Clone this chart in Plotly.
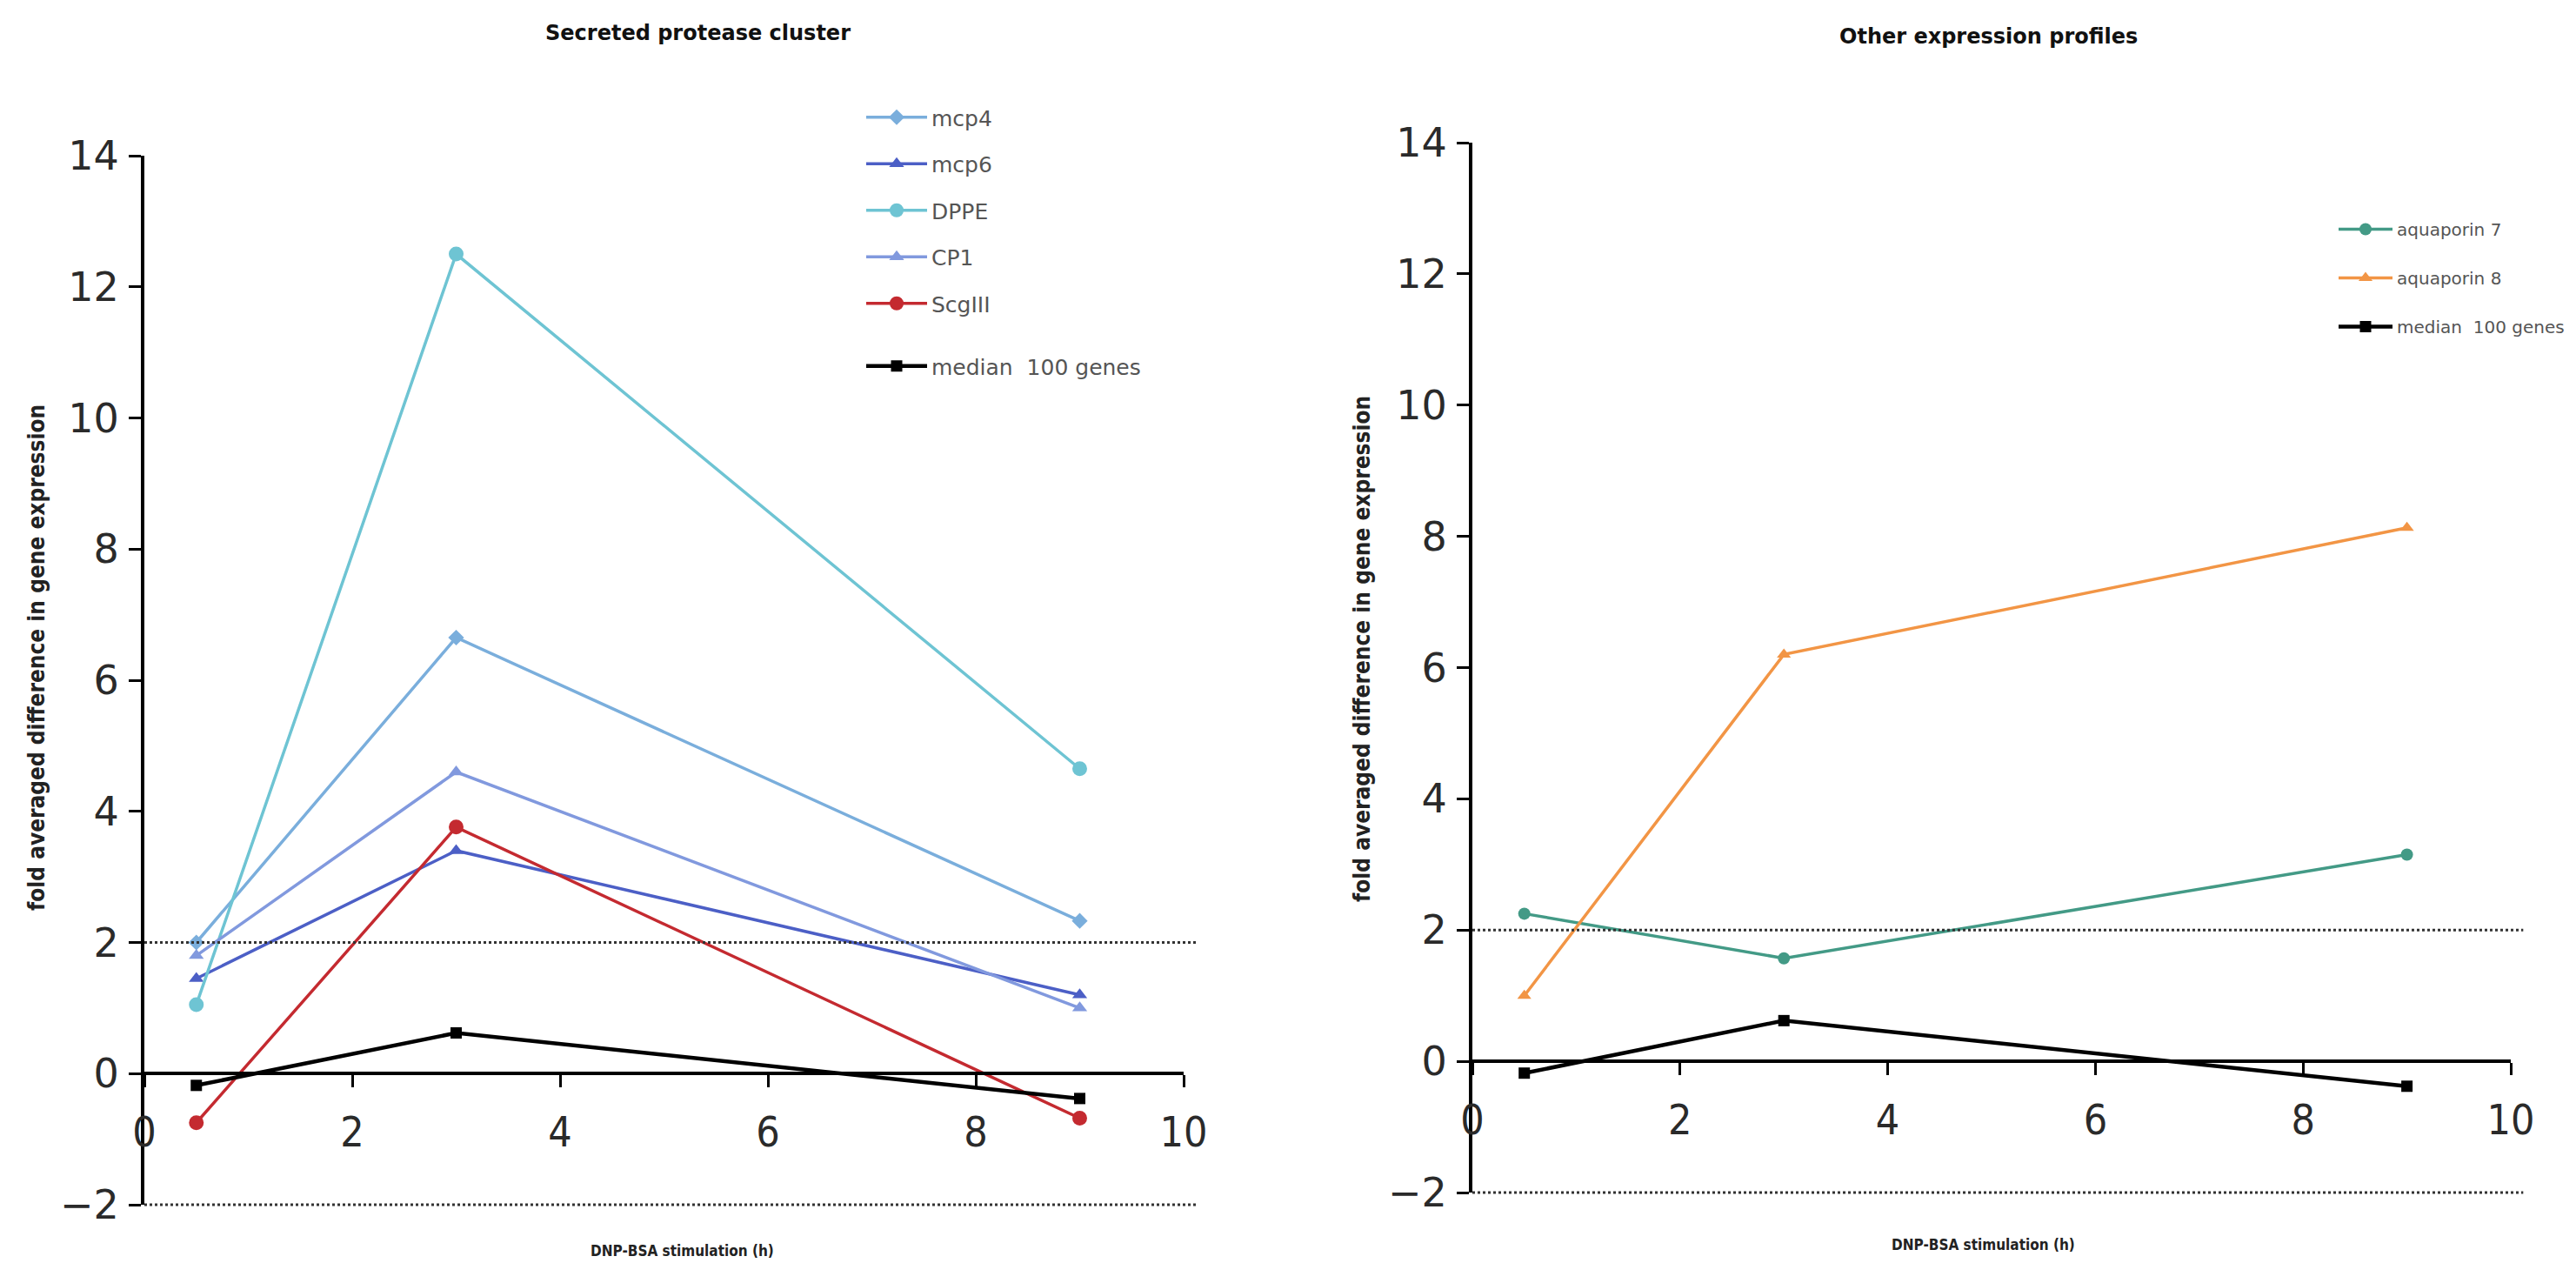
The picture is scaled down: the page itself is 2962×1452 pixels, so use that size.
import plotly.graph_objects as go

# ---------------- data ----------------
time_h = [0.5, 3, 9]

mcp4 = [2.0, 6.65, 2.33]
mcp6 = [1.45, 3.4, 1.2]
dppe = [1.05, 12.5, 4.65]
cp1 = [1.8, 4.6, 1.0]
scgiii = [-0.75, 3.76, -0.68]
median_100 = [-0.18, 0.62, -0.38]

aqp7 = [2.25, 1.57, 3.15]
aqp8 = [1.0, 6.2, 8.13]

median_name = "median  100 genes"
thresholds = [2, -2]
x_ticks = [0, 2, 4, 6, 8, 10]
y_ticks = [-2, 0, 2, 4, 6, 8, 10, 12, 14]
y_range = [-2, 14]
x_range = [0, 10]

# ---------------- styles ----------------
W, H = 2962, 1452
L_dom_x = [166 / W, 1361 / W]
L_dom_y = [1 - 1385 / H, 1 - 179 / H]
R_dom_x = [1693 / W, 2887 / W]
R_dom_y = [1 - 1371 / H, 1 - 164 / H]

tick_font_y = dict(family="DejaVu Sans, Verdana, sans-serif", size=46, color="#2a2a2a")
tick_font_x = dict(family="Liberation Sans Narrow, DejaVu Sans Condensed, sans-serif", size=48, color="#2a2a2a")
title_font = dict(family="DejaVu Sans, Verdana, sans-serif", size=24, color="#111111")
axtitle_font = dict(family="DejaVu Sans Condensed, Liberation Sans Narrow, sans-serif", size=26, color="#222222")

fig = go.Figure()

left_series = [
    ("mcp4", mcp4, "#7aaedc", "diamond", 14),
    ("mcp6", mcp6, "#4c5fc6", "triangle-up", 15),
    ("DPPE", dppe, "#6ec4d3", "circle", 17),
    ("CP1", cp1, "#8199de", "triangle-up", 15),
    ("ScgIII", scgiii, "#c42a30", "circle", 17),
]
for i, (name, vals, col, sym, sz) in enumerate(left_series):
    fig.add_trace(go.Scatter(
        x=time_h, y=vals, name=name, mode="lines+markers",
        line=dict(color=col, width=3.5),
        marker=dict(color=col, symbol=sym, size=sz),
        xaxis="x", yaxis="y", legend="legend", legendgroup=f"L{i}",
    ))
fig.add_trace(go.Scatter(
    x=time_h, y=median_100, name=median_name, mode="lines+markers",
    line=dict(color="black", width=4.5),
    marker=dict(color="black", symbol="square", size=13),
    xaxis="x", yaxis="y", legend="legend2",
))

right_series = [
    ("aquaporin 7", aqp7, "#439a86", "circle", 14),
    ("aquaporin 8", aqp8, "#f29545", "triangle-up", 14),
]
for i, (name, vals, col, sym, sz) in enumerate(right_series):
    fig.add_trace(go.Scatter(
        x=time_h, y=vals, name=name, mode="lines+markers",
        line=dict(color=col, width=3.5),
        marker=dict(color=col, symbol=sym, size=sz),
        xaxis="x2", yaxis="y2", legend="legend3", legendgroup=f"R{i}",
    ))
fig.add_trace(go.Scatter(
    x=time_h, y=median_100, name=median_name, mode="lines+markers",
    line=dict(color="black", width=4.5),
    marker=dict(color="black", symbol="square", size=13),
    xaxis="x2", yaxis="y2", legend="legend3", legendgroup="R9",
))


def zero_pos(dom_y):
    frac = (0 - y_range[0]) / (y_range[1] - y_range[0])
    return dom_y[0] + frac * (dom_y[1] - dom_y[0])


def xaxis_cfg(dom_x, dom_y):
    return dict(
        domain=dom_x, range=x_range, anchor="free", position=zero_pos(dom_y),
        tickvals=x_ticks, ticks="outside", ticklen=14, tickwidth=3, tickcolor="black",
        showline=True, linecolor="black", linewidth=4,
        showgrid=False, zeroline=False, tickfont=tick_font_x,
        ticklabelstandoff=10, automargin=False,
    )


def yaxis_cfg(dom_y, anchor):
    return dict(
        domain=dom_y, range=y_range, anchor=anchor,
        tickvals=y_ticks, ticks="outside", ticklen=14, tickwidth=3, tickcolor="black",
        showline=True, linecolor="black", linewidth=4,
        showgrid=False, zeroline=False, tickfont=tick_font_y,
        ticklabelstandoff=2, automargin=False,
    )


shapes = []
for xr, yr in [("x", "y"), ("x2", "y2")]:
    for t in thresholds:
        fy = (t - y_range[0]) / (y_range[1] - y_range[0])
        shapes.append(dict(
            type="line", xref=f"{xr} domain", yref=f"{yr} domain",
            x0=0, x1=1.012, y0=fy, y1=fy,
            line=dict(color="#333333", width=3, dash="dot"),
        ))


def ann(text, x, y, font, angle=0):
    return dict(text=text, x=x, y=y, xref="paper", yref="paper", showarrow=False,
                xanchor="center", yanchor="middle", textangle=angle, font=font)


annotations = [
    ann("<b>Secreted protease cluster</b>", 803 / W, 1 - 38 / H, title_font),
    ann("<b>Other expression profiles</b>", 2286 / W, 1 - 42 / H, title_font),
    ann("<b>fold averaged difference in gene expression</b>", 42 / W, 1 - 756 / H, axtitle_font, -90),
    ann("<b>fold averaged difference in gene expression</b>", 1566 / W, 1 - 746 / H, axtitle_font, -90),
    ann("<b>DNP-BSA stimulation (h)</b>", 784 / W, 1 - 1438 / H, dict(axtitle_font, size=17)),
    ann("<b>DNP-BSA stimulation (h)</b>", 2280 / W, 1 - 1431 / H, dict(axtitle_font, size=17)),
]

leg_font_l = dict(family="DejaVu Sans, Verdana, sans-serif", size=25, color="#555555")
leg_font_r = dict(family="DejaVu Sans, Verdana, sans-serif", size=20, color="#555555")

fig.update_layout(
    width=W, height=H,
    margin=dict(l=0, r=0, t=0, b=0, autoexpand=False),
    paper_bgcolor="white", plot_bgcolor="white",
    xaxis=xaxis_cfg(L_dom_x, L_dom_y),
    yaxis=yaxis_cfg(L_dom_y, "x"),
    xaxis2=xaxis_cfg(R_dom_x, R_dom_y),
    yaxis2=yaxis_cfg(R_dom_y, "x2"),
    shapes=shapes,
    annotations=annotations,
    legend=dict(x=991 / W, y=1 - 112 / H, xanchor="left", yanchor="top",
                font=leg_font_l, tracegroupgap=18, itemwidth=70,
                bgcolor="rgba(0,0,0,0)", traceorder="grouped"),
    legend2=dict(x=991 / W, y=1 - 398 / H, xanchor="left", yanchor="top",
                 font=leg_font_l, itemwidth=70, bgcolor="rgba(0,0,0,0)"),
    legend3=dict(x=2684 / W, y=1 - 244 / H, xanchor="left", yanchor="top",
                 font=leg_font_r, tracegroupgap=27, itemwidth=62,
                 bgcolor="rgba(0,0,0,0)", traceorder="grouped"),
    showlegend=True,
)

fig.write_html(
    "out.html",
    config={"displayModeBar": False},
    post_script="document.body.style.margin='0px';document.body.style.overflow='hidden';",
)
